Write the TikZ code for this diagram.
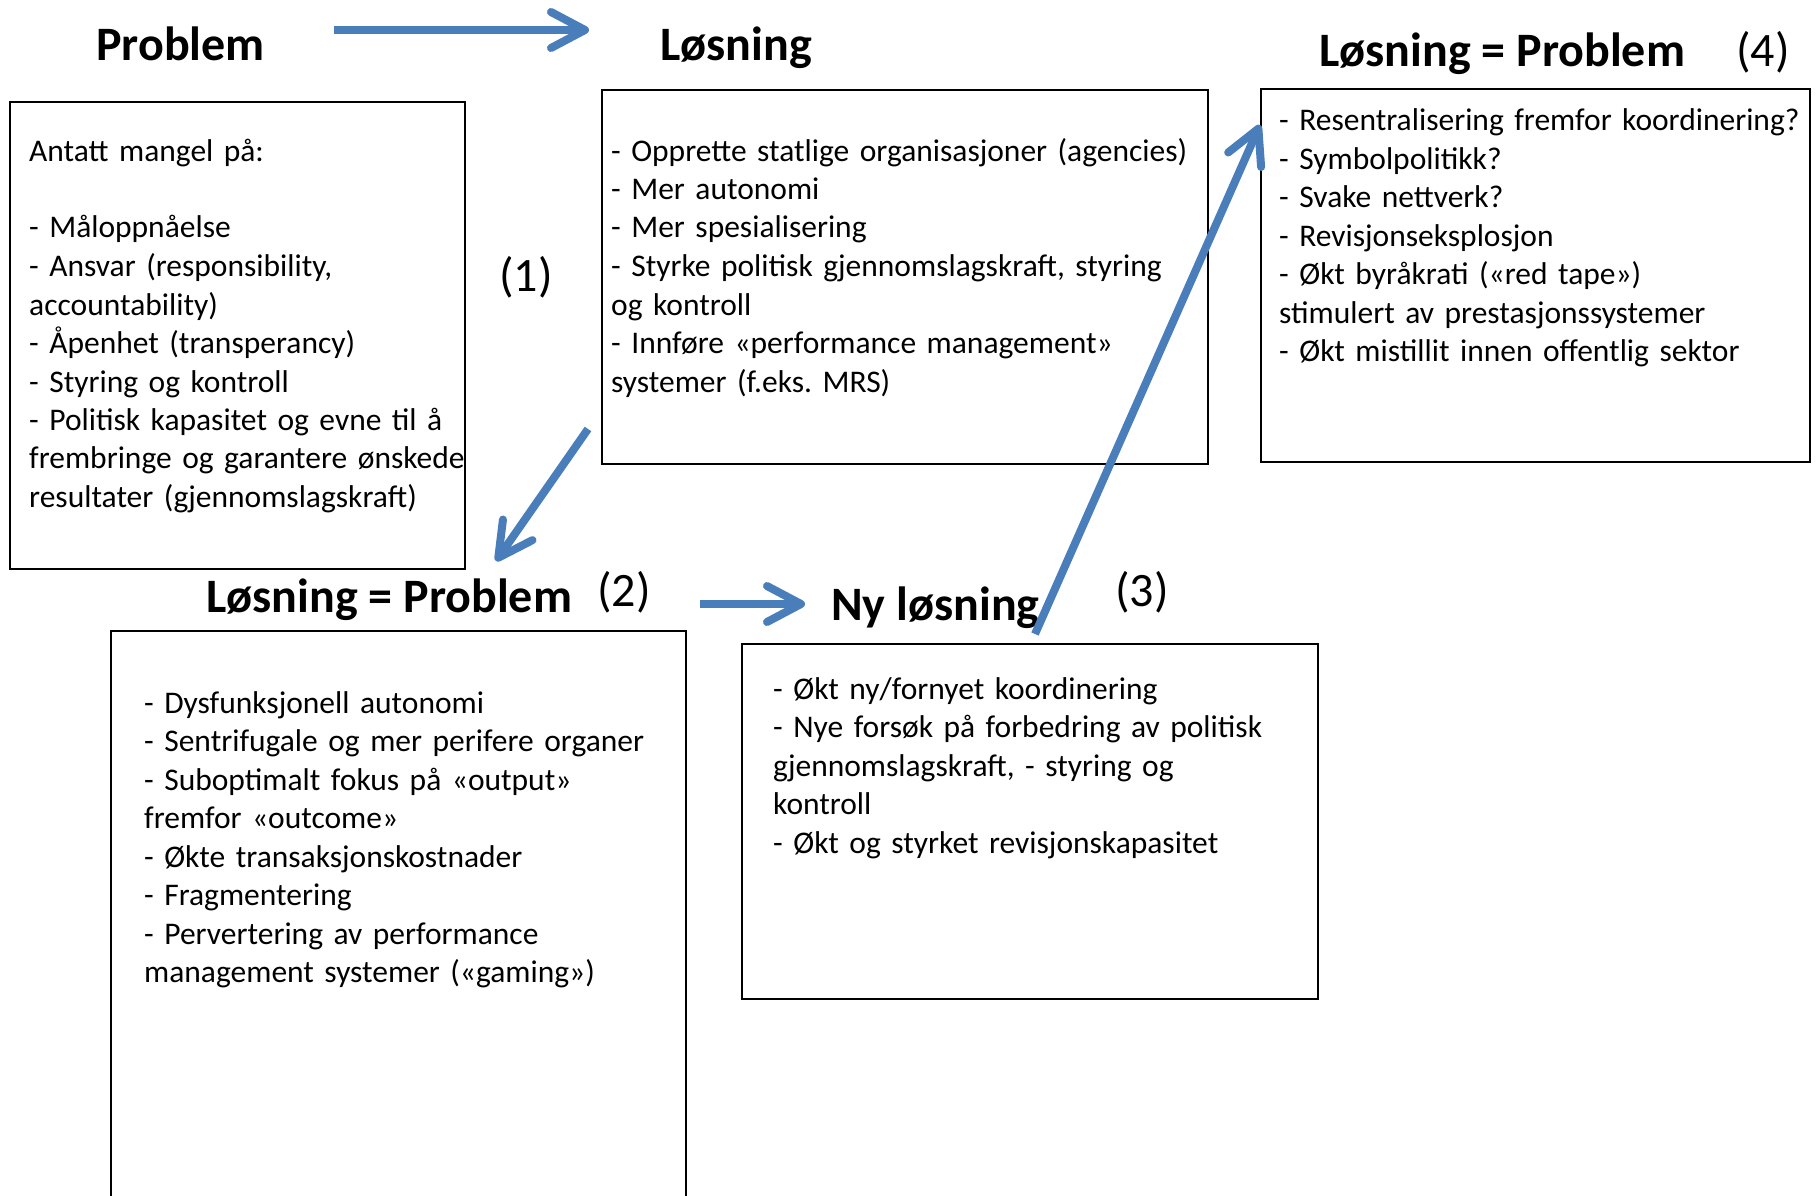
\documentclass[tikz,border=0pt]{standalone}
\usepackage{fontspec}
\setmainfont{Carlito}
\usetikzlibrary{arrows.meta,positioning}
\definecolor{pilblaa}{RGB}{74,126,187}
\frenchspacing
\tikzset{
  boks/.style={draw,line width=1.6pt,inner sep=0pt,anchor=north west},
  tekst/.style={anchor=base west,inner sep=0pt,align=left,text width=#1,
                font=\fontsize{31.5}{38.5}\selectfont},
  tittel/.style={anchor=base west,inner sep=0pt,font=\fontsize{48}{56}\selectfont\bfseries},
  nummer/.style={anchor=base west,inner sep=0pt,font=\fontsize{48}{56}\selectfont},
  pil/.style={draw=pilblaa,line width=8pt,
              -{Straight Barb[length=34pt,width=36pt,round]}},
}
\begin{document}
\begin{tikzpicture}[x=1pt,y=-1pt]
  \useasboundingbox (0,0) rectangle (1818,1196);
  % bokser
  \node[boks,minimum width=455pt,minimum height=467pt] (prob) at (9,101) {};
  \node[boks,minimum width=606pt,minimum height=374pt] (losn) at (601,89) {};
  \node[boks,minimum width=549pt,minimum height=373pt] (losnprob4) at (1260,88) {};
  \node[boks,minimum width=575pt,minimum height=568pt] (losnprob2) at (110,630) {};
  \node[boks,minimum width=576pt,minimum height=355pt] (nylosn) at (741,643) {};
  % overskrifter
  \node[tittel] (tprob) at (96,61) {Problem};
  \node[tittel] (tlosn) at (660,61) {Løsning};
  \node[tittel] (tlp4) at (1319,67) {Løsning = Problem};
  \node[nummer] (n4) at (1736,67) {(4)};
  \node[nummer] (n1) at (499,291) {(1)};
  \node[tittel] (tlp2) at (206,612) {Løsning = Problem};
  \node[nummer] (n2) at (597,606) {(2)};
  \node[tittel] (tny) at (831,620) {Ny løsning};
  \node[nummer] (n3) at (1115,606) {(3)};
  % innhold
  \node[tekst=450pt] (probtxt) at ([xshift=20pt,yshift=-60pt]prob.north west)
    {Antatt mangel på:\\[38.5pt]
     - Måloppnåelse\\
     - Ansvar (responsibility,\\
     accountability)\\
     - Åpenhet (transperancy)\\
     - Styring og kontroll\\
     - Politisk kapasitet og evne til å\\
     frembringe og garantere ønskede\\
     resultater (gjennomslagskraft)};
  \node[tekst=600pt] (losntxt) at ([xshift=10pt,yshift=-72pt]losn.north west)
    {- Opprette statlige organisasjoner (agencies)\\
     - Mer autonomi\\
     - Mer spesialisering\\
     - Styrke politisk gjennomslagskraft, styring\\
     og kontroll\\
     - Innføre «performance management»\\
     systemer (f.eks. MRS)};
  \node[tekst=545pt] (lp4txt) at ([xshift=19pt,yshift=-43pt]losnprob4.north west)
    {- Resentralisering fremfor koordinering?\\
     - Symbolpolitikk?\\
     - Svake nettverk?\\
     - Revisjonseksplosjon\\
     - Økt byråkrati («red tape»)\\
     stimulert av prestasjonssystemer\\
     - Økt mistillit innen offentlig sektor};
  \node[tekst=540pt] (lp2txt) at ([xshift=34pt,yshift=-83pt]losnprob2.north west)
    {- Dysfunksjonell autonomi\\
     - Sentrifugale og mer perifere organer\\
     - Suboptimalt fokus på «output»\\
     fremfor «outcome»\\
     - Økte transaksjonskostnader\\
     - Fragmentering\\
     - Pervertering av performance\\
     management systemer («gaming»)};
  \node[tekst=540pt] (nytxt) at ([xshift=32pt,yshift=-56pt]nylosn.north west)
    {- Økt ny/fornyet koordinering\\
     - Nye forsøk på forbedring av politisk\\
     gjennomslagskraft, - styring og\\
     kontroll\\
     - Økt og styrket revisjonskapasitet};
  % piler
  \coordinate (a1) at (334,30);
  \coordinate (a2) at (589,30);
  \coordinate (b1) at (588,429);
  \coordinate (b2) at (496,561);
  \coordinate (c1) at (700,604);
  \coordinate (c2) at (805,604);
  \coordinate (d1) at (1035,634);
  \coordinate (d2) at (1260,125);
  \draw[pil] (a1) -- (a2);
  \draw[pil] (b1) -- (b2);
  \draw[pil] (c1) -- (c2);
  \draw[pil] (d1) -- (d2);
\end{tikzpicture}
\end{document}
